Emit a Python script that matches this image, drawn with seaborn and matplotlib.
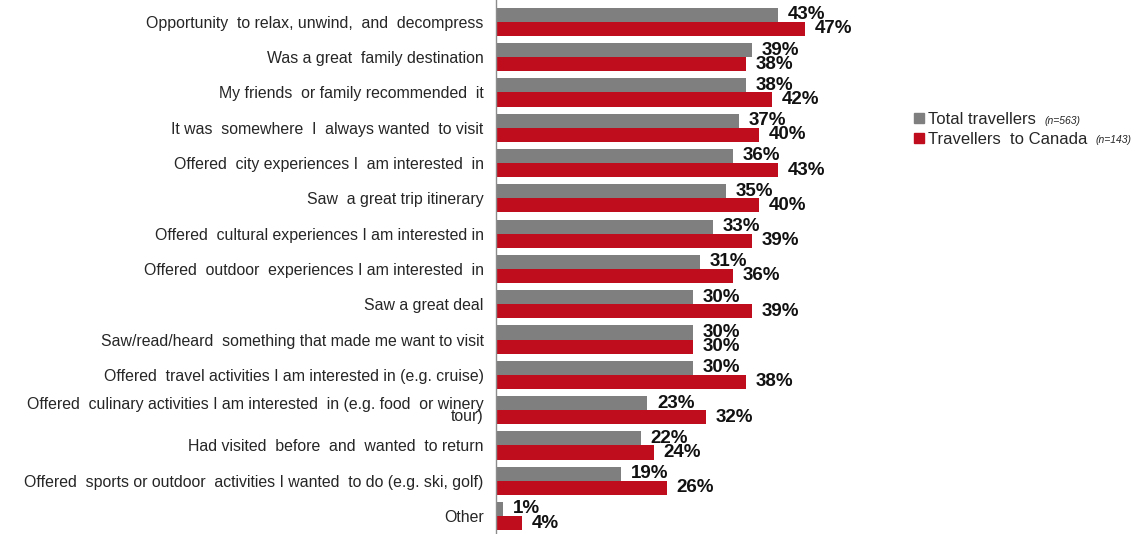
import numpy as np
import pandas as pd
import matplotlib
matplotlib.use("Agg")
import matplotlib.pyplot as plt
import seaborn as sns

# ---- data ----
reasons = [
    "Opportunity  to relax, unwind,  and  decompress",
    "Was a great  family destination",
    "My friends  or family recommended  it",
    "It was  somewhere  I  always wanted  to visit",
    "Offered  city experiences I  am interested  in",
    "Saw  a great trip itinerary",
    "Offered  cultural experiences I am interested in",
    "Offered  outdoor  experiences I am interested  in",
    "Saw a great deal",
    "Saw/read/heard  something that made me want to visit",
    "Offered  travel activities I am interested in (e.g. cruise)",
    "Offered  culinary activities I am interested  in (e.g. food  or winery\ntour)",
    "Had visited  before  and  wanted  to return",
    "Offered  sports or outdoor  activities I wanted  to do (e.g. ski, golf)",
    "Other",
]
total_travellers = [43, 39, 38, 37, 36, 35, 33, 31, 30, 30, 30, 23, 22, 19, 1]
canada_travellers = [47, 38, 42, 40, 43, 40, 39, 36, 39, 30, 38, 32, 24, 26, 4]
series_names = ["Total travellers", "Travellers  to Canada"]
series_n = ["(n=563)", "(n=143)"]
colors = ["#7f7f7f", "#c00d1e"]

df = pd.DataFrame({
    "reason": reasons * 2,
    "pct": total_travellers + canada_travellers,
    "group": [series_names[0]] * len(reasons) + [series_names[1]] * len(reasons),
})

sns.set_theme(style="white")
plt.rcParams["font.family"] = ["Liberation Sans", "DejaVu Sans"]

fig = plt.figure(figsize=(11.38, 5.34), dpi=100)
ax = fig.add_axes([0.436, 0.0, 0.45, 1.0])

sns.barplot(data=df, y="reason", x="pct", hue="group", orient="h",
            palette=colors, width=0.8, ax=ax, legend=False,
            saturation=1, errorbar=None, linewidth=0)

# value labels
for cont, vals in zip(ax.containers, [total_travellers, canada_travellers]):
    ax.bar_label(cont, labels=[f"{v}%" for v in vals], padding=7,
                 fontsize=13.5, fontweight="bold", color="#111111")

ax.set_xlim(0, 78)
ax.set_ylim(14.51, -0.62)
ax.set_xlabel("")
ax.set_ylabel("")
ax.set_xticks([])
ax.tick_params(axis="y", length=0, pad=9, labelsize=11.4, labelcolor="#262626")
for lab in ax.get_yticklabels():
    lab.set_linespacing(0.8)
for s in ["top", "right", "bottom"]:
    ax.spines[s].set_visible(False)
ax.spines["left"].set_color("#8c8c8c")
ax.spines["left"].set_linewidth(1.0)

# legend
handles = [plt.Rectangle((0, 0), 1, 1, color=c) for c in colors]
leg = fig.legend(handles, series_names, loc="upper left",
                 bbox_to_anchor=(906 / 1138, 1 - 104 / 534), frameon=False,
                 fontsize=12, handlelength=0.55, handleheight=0.55,
                 handletextpad=0.3, labelspacing=0.25, borderpad=0)
fig.canvas.draw()
inv = fig.transFigure.inverted()
for txt, n in zip(leg.get_texts(), series_n):
    bb = txt.get_window_extent()
    x0, y0 = inv.transform((bb.x1 + 8, (bb.y0 + bb.y1) / 2 - 1))
    fig.text(x0, y0, n, fontsize=7.5, fontstyle="italic", color="#262626",
             va="center", ha="left")

fig.savefig("out.png", dpi=100)
